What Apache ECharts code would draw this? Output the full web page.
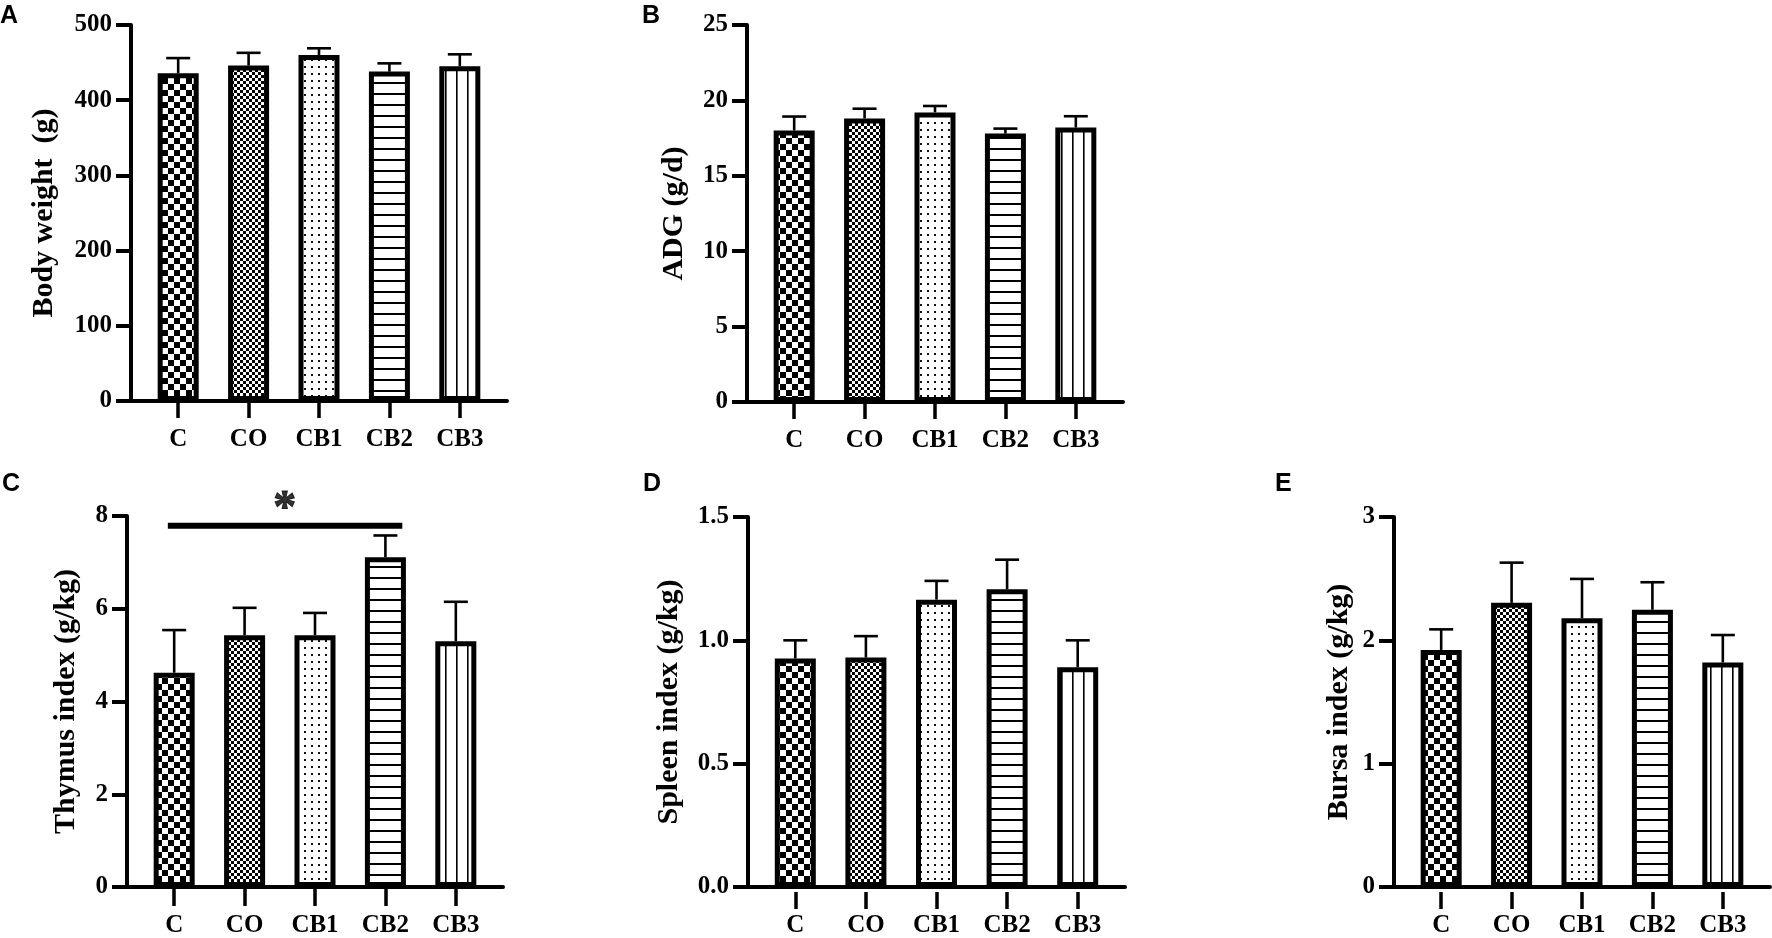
<!DOCTYPE html>
<html>
<head>
<meta charset="utf-8">
<script src="https://cdn.jsdelivr.net/npm/echarts@6/dist/echarts.min.js"></script>
<style>
html,body{margin:0;padding:0;background:#fff;}
#chart{width:1772px;height:938px;}
</style>
</head>
<body>
<div id="chart"></div>
<script>
// ---- data ----
const categories = ['C', 'CO', 'CB1', 'CB2', 'CB3'];

const bodyWeight = [436, 446, 460, 438, 445];
const bodyWeightErr = [20, 17, 9, 11, 16];

const adg = [18.0, 18.8, 19.2, 17.8, 18.2];
const adgErr = [0.93, 0.65, 0.43, 0.33, 0.75];

const thymus = [4.62, 5.43, 5.43, 7.11, 5.30];
const thymusErr = [0.92, 0.59, 0.48, 0.47, 0.85];

const spleen = [0.926, 0.93, 1.165, 1.207, 0.891];
const spleenErr = [0.074, 0.087, 0.076, 0.12, 0.109];

const bursa = [1.922, 2.304, 2.179, 2.248, 1.82];
const bursaErr = [0.167, 0.326, 0.319, 0.223, 0.223];

const yTicksA = [0, 100, 200, 300, 400, 500];
const yTicksB = [0, 5, 10, 15, 20, 25];
const yTicksC = [0, 2, 4, 6, 8];
const yTicksD = [0.0, 0.5, 1.0, 1.5];
const yTicksE = [0, 1, 2, 3];

// significance annotation (panel C): bracket from C to CB2
const sigLineX = [-0.09, 3.24];
const sigLineY = 7.79;
const sigStar = [1.57, 8.35];

// ---- patterns ----
function mk(w, h, draw) {
  const c = document.createElement('canvas');
  c.width = w; c.height = h;
  const g = c.getContext('2d');
  g.fillStyle = '#fff'; g.fillRect(0, 0, w, h);
  g.fillStyle = '#000'; g.strokeStyle = '#000';
  draw(g);
  return { image: c, repeat: 'repeat' };
}
const patChecker = mk(12, 12, g => { g.fillRect(0, 0, 6, 6); g.fillRect(6, 6, 6, 6); });
const patFine = mk(6, 6, g => { g.fillStyle = '#000'; g.fillRect(0, 0, 3, 3); g.fillRect(3, 3, 3, 3); });
const patDots = mk(7, 7, g => { g.fillStyle = '#111'; g.fillRect(3, 3, 2, 2); });
const patH = mk(11, 11, g => { g.fillRect(0, 5, 11, 2); });
const patV = mk(11, 11, g => { g.fillRect(5, 0, 1.6, 11); });
const patterns = [patChecker, patFine, patDots, patH, patV];

// ---- layout ----
const SERIF = "'Liberation Serif', 'Times New Roman', serif";
const XMIN = -0.67, XMAX = 4.67;
const panels = [
  { letter: 'A', lx: 0, ly: 4, grid: { left: 131, top: 25, width: 376, height: 376 }, vals: bodyWeight, errs: bodyWeightErr, ticks: yTicksA, name: 'Body weight  (g)', gap: 72, dec: 0 },
  { letter: 'B', lx: 642, ly: 4, grid: { left: 747, top: 25, width: 376, height: 377 }, vals: adg, errs: adgErr, ticks: yTicksB, name: 'ADG (g/d)', gap: 58, dec: 0 },
  { letter: 'C', lx: 2, ly: 472, grid: { left: 127, top: 516, width: 376, height: 373 }, vals: thymus, errs: thymusErr, ticks: yTicksC, name: 'Thymus index (g/kg)', gap: 46, dec: 0 },
  { letter: 'D', lx: 643, ly: 472, grid: { left: 748, top: 517, width: 377, height: 375 }, vals: spleen, errs: spleenErr, ticks: yTicksD, name: 'Spleen index (g/kg)', gap: 64, dec: 1 },
  { letter: 'E', lx: 1275, ly: 472, grid: { left: 1394, top: 517, width: 376, height: 375 }, vals: bursa, errs: bursaErr, ticks: yTicksE, name: 'Bursa index (g/kg)', gap: 40, dec: 0 }
];

const catIdx = categories.map((_, i) => i);
const N = panels.length;

// overlay grid per panel: the band region of the categories, used only for native category ticks
function bandGrid(g) {
  const span = XMAX - XMIN;
  return {
    left: g.left + (-0.5 - XMIN) / span * g.width,
    width: categories.length / span * g.width,
    top: g.top, height: g.height, containLabel: false
  };
}

const option = {
  animation: false,
  backgroundColor: '#fff',
  title: panels.map(p => ({
    text: p.letter, left: p.lx, top: p.ly, padding: 0,
    textStyle: { fontFamily: "'Liberation Sans', Arial, sans-serif", fontWeight: 'bold', fontSize: 25, color: '#000' }
  })),
  grid: panels.map(p => Object.assign({ containLabel: false }, p.grid)).concat(panels.map(p => bandGrid(p.grid))),
  xAxis: panels.map((p, k) => ({
    type: 'value', gridIndex: k, min: XMIN, max: XMAX,
    axisLine: { show: true, onZero: false, lineStyle: { color: '#000', width: 4 } },
    axisTick: { show: false },
    axisLabel: {
      customValues: catIdx, formatter: v => categories[Math.round(v)], margin: 26,
      fontFamily: SERIF, fontWeight: 'bold', fontSize: 25, color: '#000'
    },
    splitLine: { show: false }
  })).concat(panels.map((p, k) => ({
    type: 'category', gridIndex: N + k, data: categories, boundaryGap: true,
    axisLine: { show: false, onZero: false },
    axisTick: { show: true, alignWithLabel: true, length: 17, lineStyle: { color: '#000', width: 3.5 } },
    axisLabel: { show: false },
    splitLine: { show: false }
  }))),
  yAxis: panels.map((p, k) => ({
    type: 'value', gridIndex: k, min: p.ticks[0], max: p.ticks[p.ticks.length - 1],
    interval: p.ticks[1] - p.ticks[0],
    name: p.name, nameLocation: 'middle', nameGap: p.gap,
    nameTextStyle: { fontFamily: SERIF, fontWeight: 'bold', fontSize: 30, color: '#000' },
    axisLine: { show: true, onZero: false, lineStyle: { color: '#000', width: 4 } },
    axisTick: { show: true, length: 15, lineStyle: { color: '#000', width: 4 } },
    axisLabel: {
      margin: 19, formatter: v => v.toFixed(p.dec),
      fontFamily: SERIF, fontWeight: 'bold', fontSize: 25, color: '#000'
    },
    splitLine: { show: false }
  })).concat(panels.map((p, k) => ({
    type: 'value', gridIndex: N + k, show: false, min: p.ticks[0], max: p.ticks[p.ticks.length - 1]
  }))),
  series: []
};

panels.forEach((p, k) => {
  // error bars (upper)
  option.series.push({
    type: 'custom', xAxisIndex: k, yAxisIndex: k, z: 1, clip: false,
    data: p.vals.map((v, i) => [i, v, p.errs[i]]),
    encode: { x: 0, y: 1 },
    renderItem: (params, api) => {
      const x = api.value(0), y = api.value(1), e = api.value(2);
      const p0 = api.coord([x, y]);
      const p1 = api.coord([x, y + e]);
      return {
        type: 'group', children: [
          { type: 'line', shape: { x1: p0[0], y1: p0[1], x2: p1[0], y2: p1[1] }, style: { stroke: '#000', lineWidth: 2.6 } },
          { type: 'line', shape: { x1: p1[0] - 12, y1: p1[1], x2: p1[0] + 12, y2: p1[1] }, style: { stroke: '#000', lineWidth: 2.6 } }
        ]
      };
    }
  });
  option.series.push({
    type: 'bar', xAxisIndex: k, yAxisIndex: k, z: 2, barWidth: 41,
    data: p.vals.map((v, i) => ({
      value: [i, v],
      itemStyle: { color: patterns[i], borderColor: '#000', borderWidth: 5 }
    }))
  });
});

// significance bracket and star on panel C
option.series.push({
  type: 'line', xAxisIndex: 2, yAxisIndex: 2, clip: false, symbol: 'none', z: 5,
  data: [[sigLineX[0], sigLineY], [sigLineX[1], sigLineY]],
  lineStyle: { color: '#000', width: 6 }
});
option.series.push({
  type: 'scatter', xAxisIndex: 2, yAxisIndex: 2, clip: false, symbolSize: 1, z: 5,
  itemStyle: { color: 'rgba(0,0,0,0)' },
  data: [sigStar],
  label: { show: true, position: 'inside', formatter: '*', fontFamily: SERIF, fontWeight: 'bold', fontSize: 46, color: '#000', textBorderColor: '#000', textBorderWidth: 1, offset: [0, 10] }
});

const chart = echarts.init(document.getElementById('chart'), null, { renderer: 'canvas' });
chart.setOption(option);
</script>
</body>
</html>
